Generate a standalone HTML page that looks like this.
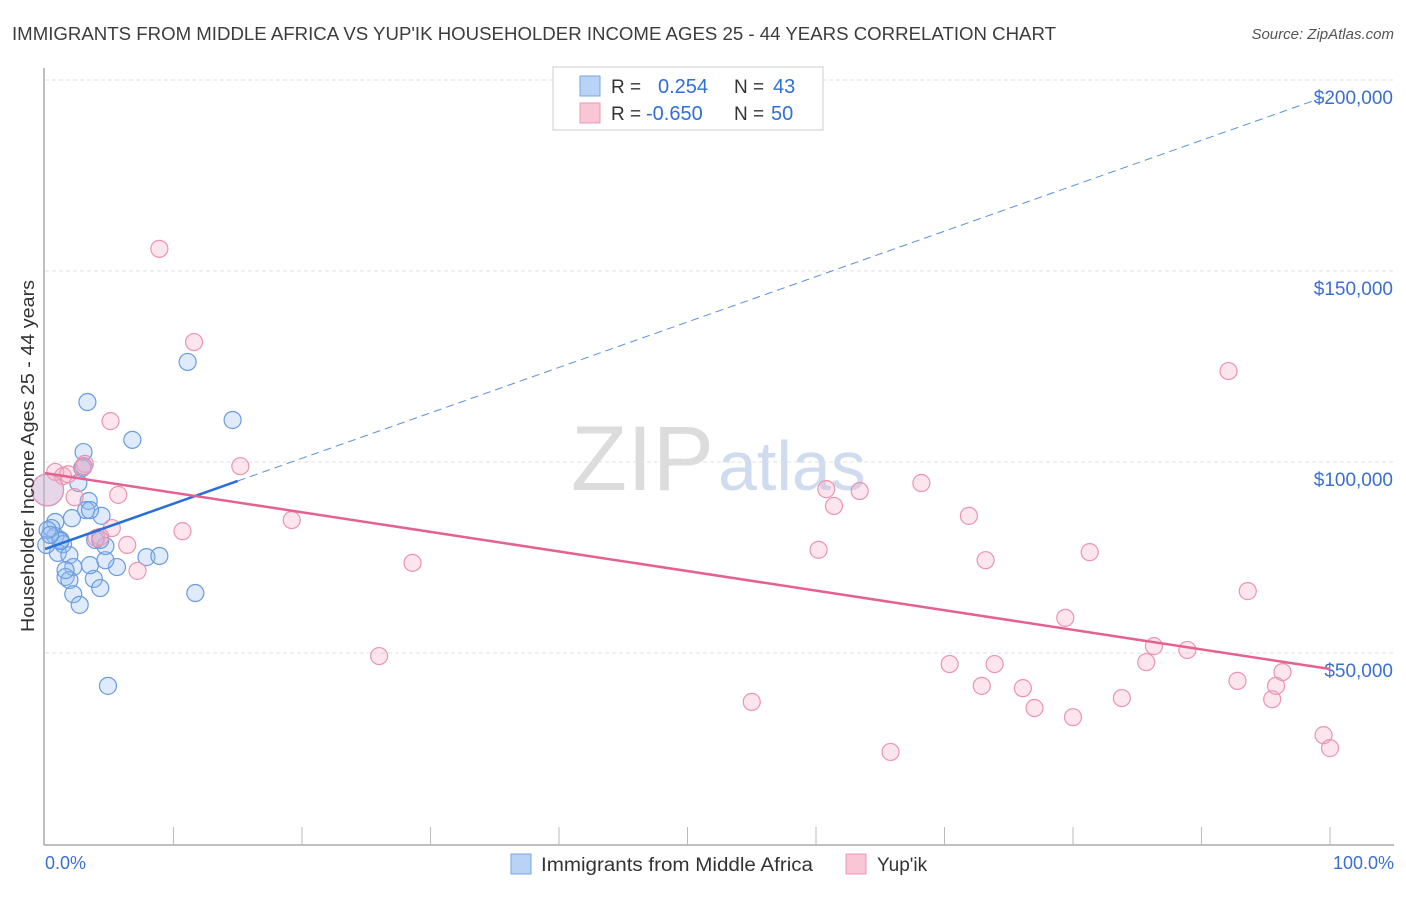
<!DOCTYPE html>
<html><head><meta charset="utf-8"><style>
body{margin:0;background:#fff;font-family:"Liberation Sans",sans-serif;}
svg text{font-family:"Liberation Sans",sans-serif;}
</style></head><body>
<svg id="c" width="1406" height="892">
<text x="12" y="40" font-size="18" fill="#3c3c3c" textLength="1044" lengthAdjust="spacingAndGlyphs">IMMIGRANTS FROM MIDDLE AFRICA VS YUP'IK HOUSEHOLDER INCOME AGES 25 - 44 YEARS CORRELATION CHART</text>
<text x="1394" y="39" font-size="15" fill="#555" text-anchor="end" font-style="italic">Source: ZipAtlas.com</text>
<text x="714" y="490" font-size="92" fill="#dcdcdc" text-anchor="end" font-family="Liberation Serif">ZIP</text>
<text x="718" y="490" font-size="70" fill="#cfdcf0">atlas</text>
<g id="grid"></g><g id="axes"></g><g id="pts"></g><g id="lines"></g>
<text transform="translate(34,456) rotate(-90)" font-size="18" fill="#333" text-anchor="middle" textLength="352" lengthAdjust="spacingAndGlyphs">Householder Income Ages 25 - 44 years</text>
<text x="45" y="869" font-size="18" fill="#3a6fd0">0.0%</text>
<text x="1394" y="869" font-size="18" fill="#3a6fd0" text-anchor="end">100.0%</text>
<g>
<rect x="553" y="67" width="270" height="63" fill="#fff" stroke="#ccc"/>
<rect x="580" y="76" width="20" height="20" fill="#b8d3f5" stroke="#7aa6e6"/>
<rect x="580" y="103" width="20" height="20" fill="#f9c6d6" stroke="#ec98b3"/>
<text x="611" y="93" font-size="19" fill="#333">R =</text>
<text x="658" y="93" font-size="20" fill="#2f6fd6">0.254</text>
<text x="734" y="93" font-size="19" fill="#333">N =</text>
<text x="773" y="93" font-size="20" fill="#2f6fd6">43</text>
<text x="611" y="120" font-size="19" fill="#333">R =</text>
<text x="646" y="120" font-size="20" fill="#2f6fd6">-0.650</text>
<text x="734" y="120" font-size="19" fill="#333">N =</text>
<text x="771" y="120" font-size="20" fill="#2f6fd6">50</text>
</g>
<g>
<rect x="511" y="854" width="20" height="20" fill="#b8d3f5" stroke="#7aa6e6"/>
<text x="541" y="871" font-size="19" fill="#333" textLength="272" lengthAdjust="spacingAndGlyphs">Immigrants from Middle Africa</text>
<rect x="846" y="854" width="20" height="20" fill="#f9c6d6" stroke="#ec98b3"/>
<text x="877" y="871" font-size="19" fill="#333">Yup'ik</text>
</g>
</svg>
<script>
const yTicks=[200000,150000,100000,50000];
const yTickLabels=["$200,000","$150,000","$100,000","$50,000"];
const blueX=[3.3,6.8,11.1,14.6,3.0,2.9,3.4,2.6,2.1,3.2,4.4,0.8,0.8,1.2,1.4,1.0,1.9,2.2,1.6,1.9,3.8,2.2,2.7,4.3,3.5,5.6,4.7,4.7,3.9,7.9,8.9,11.7,4.9,0.2,0.5,1.2,3.0,4.3,1.6,0.1,0.2,3.5,0.4];
const blueY=[115700,105800,126200,111000,102600,98400,89800,94500,85300,87400,85900,84300,80600,79600,78500,76200,75600,72500,69900,69100,69400,65400,62600,67000,73000,72500,74300,78000,79600,75100,75400,65700,41400,92700,82700,79300,98900,79600,71700,78300,82200,87400,80900];
const pinkX=[8.9,11.6,5.1,15.2,3.1,0.8,1.4,1.8,0.2,2.3,5.7,19.2,10.7,5.2,6.4,4.0,7.2,28.6,26.0,55.0,60.2,60.8,61.4,63.4,65.8,68.2,70.4,71.9,72.9,73.2,73.9,76.1,77.0,79.4,80.0,81.3,83.8,85.7,86.3,88.9,92.1,92.8,93.6,95.5,95.8,96.3,99.5,100,3.0,4.3];
const pinkY=[155800,131400,110700,98900,99500,97400,96300,96800,92700,90800,91400,84800,81900,82700,78300,80100,71500,73600,49200,37200,77000,92900,88500,92400,24100,94500,47100,85900,41400,74300,47100,40800,35600,59200,33200,76400,38200,47600,51800,50800,123800,42700,66200,37900,41400,45000,28500,25100,98700,80400];
const blueTrend=[77200,196100];
const blueSolidEnd=15;
const pinkTrend=[97100,45800];
const NS="http://www.w3.org/2000/svg";
const X=p=>45+p*12.85;
const Y=v=>80+(200000-v)*0.00382;
function mk(tag,attrs,parent){const e=document.createElementNS(NS,tag);for(const k in attrs)e.setAttribute(k,attrs[k]);document.getElementById(parent).appendChild(e);return e;}
yTicks.forEach((t,i)=>{
 const g=mk('line',{x1:45,x2:1394,y1:Y(t),y2:Y(t),stroke:'#e2e2e2','stroke-dasharray':'4,3'},'grid');
 
 
 const l=mk('text',{x:1393,y:Y(t)+24,'font-size':19,fill:'#3a6fd0','text-anchor':'end'},'grid');
 l.textContent=yTickLabels[i];
 
 
});
const ax=mk('line',{x1:44,x2:44,y1:68,y2:845,stroke:'#aaa','stroke-width':1.5},'axes');


const bx=mk('line',{x1:44,x2:1394,y1:845,y2:845,stroke:'#aaa','stroke-width':1.5},'axes');


for(let i=1;i<=10;i++){const t=mk('line',{x1:X(i*10),x2:X(i*10),y1:827,y2:845,stroke:'#bbb'},'axes');
 
 }
function pts(xs,ys,fill,stroke,name){xs.forEach((x,i)=>{
 const big=(x<0.5&&Math.abs(ys[i]-92700)<100);
 const c=mk('circle',{cx:X(x),cy:Y(ys[i]),r:big?16:8.5,fill:fill,stroke:stroke,'stroke-width':1.2},'pts');
 
 });}
pts(blueX,blueY,'rgba(150,190,240,0.3)','#6a9be0','africa-point');
pts(pinkX,pinkY,'rgba(245,170,195,0.3)','#eb94b0','yupik-point');
const bs=mk('line',{x1:X(0),y1:Y(blueTrend[0]),x2:X(blueSolidEnd),y2:Y(blueTrend[0]+(blueTrend[1]-blueTrend[0])*blueSolidEnd/100),stroke:'#2a6fd8','stroke-width':2.5},'lines');


const bd=mk('line',{x1:X(blueSolidEnd),y1:Y(blueTrend[0]+(blueTrend[1]-blueTrend[0])*blueSolidEnd/100),x2:X(100),y2:Y(blueTrend[1]),stroke:'#5a8fdc','stroke-width':1,'stroke-dasharray':'8,5'},'lines');


const pl=mk('line',{x1:X(0),y1:Y(pinkTrend[0]),x2:X(100),y2:Y(pinkTrend[1]),stroke:'#e5628e','stroke-width':2.5},'lines');


</script>
</body></html>
